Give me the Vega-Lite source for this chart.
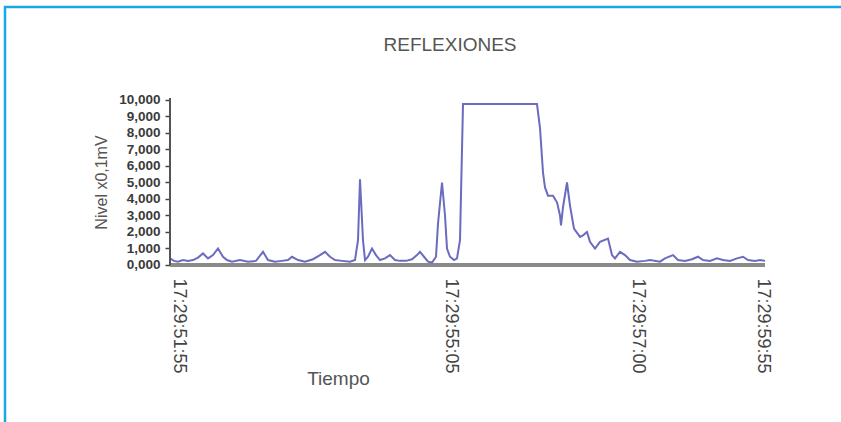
{
  "$schema": "https://vega.github.io/schema/vega-lite/v6.json",
  "width": 840,
  "height": 420,
  "autosize": {"type": "none"},
  "padding": {"left": 5, "top": 7, "right": 0, "bottom": 0},
  "background": "white",
  "config": {
    "view": {"stroke": "#1aa7e6", "strokeWidth": 2.5},
    "font": "Liberation Sans"
  },
  "title": {
    "text": "REFLEXIONES",
    "fontSize": 19,
    "fontWeight": "normal",
    "color": "#555555",
    "anchor": "middle",
    "frame": "group",
    "baseline": "alphabetic",
    "offset": -63,
    "dx": 25
  },
  "data": {
    "values": [
      {"n": 0, "nivel": 400}, {"n": 4, "nivel": 250}, {"n": 8, "nivel": 200}, {"n": 13, "nivel": 300},
      {"n": 18, "nivel": 250}, {"n": 23, "nivel": 300}, {"n": 28, "nivel": 450}, {"n": 33, "nivel": 700},
      {"n": 38, "nivel": 400}, {"n": 43, "nivel": 600}, {"n": 48, "nivel": 1000}, {"n": 53, "nivel": 500},
      {"n": 57, "nivel": 300}, {"n": 62, "nivel": 200}, {"n": 70, "nivel": 300}, {"n": 78, "nivel": 200},
      {"n": 86, "nivel": 250}, {"n": 93, "nivel": 800}, {"n": 98, "nivel": 300}, {"n": 105, "nivel": 200},
      {"n": 112, "nivel": 250}, {"n": 118, "nivel": 300}, {"n": 122, "nivel": 500}, {"n": 128, "nivel": 300},
      {"n": 135, "nivel": 200}, {"n": 143, "nivel": 350}, {"n": 150, "nivel": 600}, {"n": 155, "nivel": 800},
      {"n": 160, "nivel": 500}, {"n": 165, "nivel": 300}, {"n": 172, "nivel": 250}, {"n": 180, "nivel": 200},
      {"n": 185, "nivel": 300}, {"n": 188, "nivel": 1500}, {"n": 190, "nivel": 5200}, {"n": 193, "nivel": 1500},
      {"n": 195, "nivel": 300}, {"n": 198, "nivel": 500}, {"n": 202, "nivel": 1000}, {"n": 206, "nivel": 600},
      {"n": 210, "nivel": 300}, {"n": 215, "nivel": 400}, {"n": 220, "nivel": 600}, {"n": 225, "nivel": 300},
      {"n": 230, "nivel": 250}, {"n": 236, "nivel": 250}, {"n": 242, "nivel": 350}, {"n": 247, "nivel": 600},
      {"n": 250, "nivel": 800}, {"n": 254, "nivel": 500}, {"n": 258, "nivel": 200}, {"n": 262, "nivel": 150},
      {"n": 266, "nivel": 500}, {"n": 268, "nivel": 2500}, {"n": 272, "nivel": 5000}, {"n": 275, "nivel": 3000},
      {"n": 277, "nivel": 1000}, {"n": 280, "nivel": 500}, {"n": 284, "nivel": 300}, {"n": 287, "nivel": 400},
      {"n": 290, "nivel": 1500}, {"n": 293, "nivel": 9750}, {"n": 330, "nivel": 9750}, {"n": 367, "nivel": 9750},
      {"n": 370, "nivel": 8300}, {"n": 373, "nivel": 5600}, {"n": 375, "nivel": 4700}, {"n": 378, "nivel": 4200},
      {"n": 383, "nivel": 4200}, {"n": 387, "nivel": 3800}, {"n": 390, "nivel": 3000}, {"n": 391, "nivel": 2400},
      {"n": 393, "nivel": 3500}, {"n": 397, "nivel": 5000}, {"n": 400, "nivel": 3600}, {"n": 404, "nivel": 2200},
      {"n": 410, "nivel": 1700}, {"n": 413, "nivel": 1800}, {"n": 417, "nivel": 2000}, {"n": 420, "nivel": 1400},
      {"n": 425, "nivel": 1000}, {"n": 430, "nivel": 1400}, {"n": 438, "nivel": 1600}, {"n": 442, "nivel": 600},
      {"n": 445, "nivel": 400}, {"n": 450, "nivel": 800}, {"n": 455, "nivel": 600}, {"n": 460, "nivel": 300},
      {"n": 467, "nivel": 200}, {"n": 475, "nivel": 250}, {"n": 480, "nivel": 300}, {"n": 490, "nivel": 200},
      {"n": 495, "nivel": 400}, {"n": 503, "nivel": 600}, {"n": 508, "nivel": 300}, {"n": 515, "nivel": 250},
      {"n": 522, "nivel": 350}, {"n": 528, "nivel": 500}, {"n": 533, "nivel": 300}, {"n": 540, "nivel": 250},
      {"n": 547, "nivel": 400}, {"n": 553, "nivel": 300}, {"n": 560, "nivel": 250}, {"n": 567, "nivel": 400},
      {"n": 573, "nivel": 500}, {"n": 578, "nivel": 300}, {"n": 585, "nivel": 250}, {"n": 590, "nivel": 300},
      {"n": 595, "nivel": 250}
    ]
  },
  "layer": [
    {
      "mark": {"type": "rule", "color": "#8a8a8a", "strokeWidth": 3},
      "encoding": {
        "x": {"datum": 0, "type": "quantitative"},
        "x2": {"datum": 595},
        "y": {"datum": 0, "type": "quantitative"}
      }
    },
    {
      "mark": {"type": "line", "color": "#6b6bbf", "strokeWidth": 2},
      "encoding": {
        "x": {
          "field": "n",
          "type": "quantitative",
          "scale": {"domain": [-165, 675], "nice": false, "zero": false},
          "axis": {
            "orient": "bottom",
            "offset": -162,
            "domain": false,
            "ticks": false,
            "grid": false,
            "values": [8, 280, 467, 592],
            "labelExpr": "datum.value == 8 ? '17:29:51:55' : datum.value == 280 ? '17:29:55:05' : datum.value == 467 ? '17:29:57:00' : '17:29:59:55'",
            "labelAngle": 90,
            "labelAlign": "left",
            "labelBaseline": "middle",
            "labelPadding": 13,
            "labelFontSize": 18,
            "labelColor": "#444444",
            "labelOverlap": false,
            "labelFlush": false,
            "title": "Tiempo",
            "titleFontSize": 19,
            "titleFontWeight": "normal",
            "titleColor": "#555555",
            "titleX": 333,
            "titleY": 119,
            "titleAlign": "center",
            "titleBaseline": "alphabetic"
          }
        },
        "y": {
          "field": "nivel",
          "type": "quantitative",
          "scale": {"domain": [-9818, 15636], "nice": false, "zero": false},
          "axis": {
            "orient": "left",
            "offset": -165,
            "domain": false,
            "grid": false,
            "values": [0, 1000, 2000, 3000, 4000, 5000, 6000, 7000, 8000, 9000, 10000],
            "labelExpr": "datum.value == 0 ? '0,000' : format(datum.value, ',')",
            "labelFontSize": 13.5,
            "labelFontWeight": "bold",
            "labelColor": "#3a3a3a",
            "labelPadding": 5,
            "labelOverlap": false,
            "tickSize": 5,
            "tickColor": "#444444",
            "tickWidth": 1.5,
            "title": "Nivel x0,1mV",
            "titleFontSize": 16,
            "titleFontWeight": "normal",
            "titleColor": "#555555",
            "titleAngle": -90,
            "titleX": -64,
            "titleY": 175,
            "titleAlign": "center",
            "titleBaseline": "alphabetic"
          }
        }
      }
    },
    {
      "mark": {"type": "rule", "color": "#555555", "strokeWidth": 1.5},
      "encoding": {
        "x": {"datum": 0, "type": "quantitative"},
        "y": {"datum": 0, "type": "quantitative"},
        "y2": {"datum": 10100}
      }
    }
  ]
}
